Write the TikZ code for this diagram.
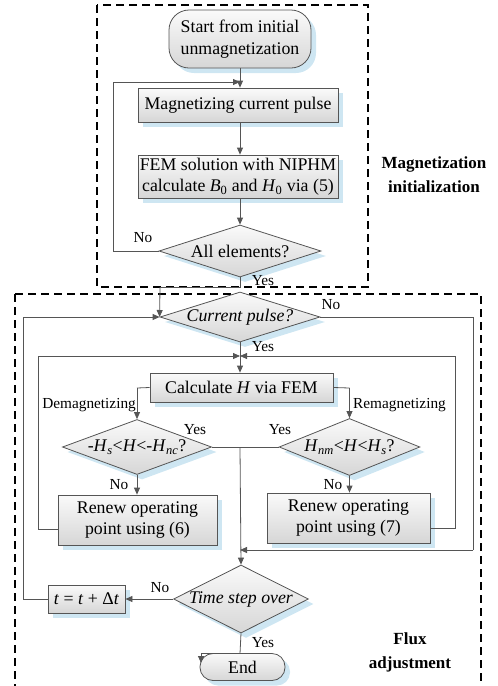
\documentclass[tikz,border=0pt]{standalone}
\usepackage{fontspec}
\setmainfont{Liberation Serif}
\usetikzlibrary{shapes.geometric,arrows.meta,shadows,calc}
\definecolor{shadowblue}{RGB}{206,230,242}
\definecolor{linegray}{RGB}{85,85,85}
\begin{document}
\begin{tikzpicture}[x=1pt,y=-1pt,
  every node/.style={font=\fontsize{17.8}{21.5}\selectfont},
  boxshade/.style={draw=linegray,line width=0.8pt,top color=gray!4,bottom color=gray!32,
     drop shadow={shadow xshift=5pt,shadow yshift=-5pt,fill=shadowblue,opacity=1}},
  proc/.style={boxshade,rectangle,inner sep=0pt,align=center},
  term/.style={boxshade,rectangle,rounded corners=14pt,inner sep=0pt,align=center},
  dec/.style={boxshade,diamond,inner sep=0pt,align=center},
  lbl/.style={font=\fontsize{15.3}{17}\selectfont,inner sep=0pt},
  side/.style={font=\fontsize{17}{24}\bfseries\selectfont,align=center,inner sep=0pt},
  conn/.style={draw=linegray,line width=0.8pt},
  arr/.style={conn,-{Triangle[length=7pt,width=6pt]}},
  region/.style={draw=black,line width=1.2pt,dash pattern=on 8pt off 5pt}
]
\useasboundingbox (0,0) rectangle (498,686);

% regions
\draw[region] (97,5) rectangle (368,287);
\draw[region] (15,294) -- (15,692);
\draw[region] (15,294) -- (481,294) -- (481,692);

\node[side] (lab1) at (434,175) {Magnetization\\initialization};
\node[side] (lab2) at (410,652) {Flux\\adjustment};

% top part
\node[term,minimum width=142pt,minimum height=58pt,rounded corners=20pt] (start) at (240,39) {Start from initial\\unmagnetization};
\node[proc,minimum width=200pt,minimum height=34pt] (mag) at (238,105) {Magnetizing current pulse};
\node[proc,minimum width=200pt,minimum height=43pt] (fem) at (238,176.5) {FEM solution with NIPHM\\calculate \textit{B}\textsubscript{0} and \textit{H}\textsubscript{0} via (5)};
\node[dec,minimum width=162pt,minimum height=52pt,aspect=3.2] (alld) at (240,251) {All elements?};

\coordinate (loopA) at (113,251);
\coordinate (loopB) at (113,82);
\coordinate (loopC) at (240,82);
\draw[arr] (start.south) -- (mag.north -| start.south);
\draw[arr] (loopA) -- (loopB) -- (loopC);
\draw[conn] (alld.west) -- (loopA);
\draw[arr] (mag.south -| alld.north) -- (fem.north -| alld.north);
\draw[arr] (fem.south -| alld.north) -- (alld.north);
\node[lbl] (noA) at (143,238) {No};
\node[lbl] (yesA) at (263,281) {Yes};

% lower part
\node[dec,minimum width=160pt,minimum height=50pt,aspect=3.2,font=\fontsize{17.8}{21.5}\itshape\selectfont] (cp) at (240,317) {Current pulse?};
\node[proc,minimum width=183pt,minimum height=29pt] (calc) at (241.5,387.5) {Calculate \textit{H} via FEM};
\node[dec,minimum width=147pt,minimum height=55pt,aspect=3.5] (dl) at (137,447) {-\textit{H}\textsubscript{\textit{s}}<\textit{H}<-\textit{H}\textsubscript{\textit{nc}}?};
\node[dec,minimum width=135pt,minimum height=57pt,aspect=3.5] (dr) at (349.5,447) {\textit{H}\textsubscript{\textit{nm}}<\textit{H}<\textit{H}\textsubscript{\textit{s}}?};
\node[proc,minimum width=159pt,minimum height=50pt] (r6) at (137.5,520) {Renew operating\\point using (6)};
\node[proc,minimum width=163pt,minimum height=50pt] (r7) at (348.5,518) {Renew operating\\point using (7)};
\node[dec,minimum width=133pt,minimum height=68pt,aspect=2,font=\fontsize{17.8}{21.5}\itshape\selectfont] (ts) at (241,599) {Time step over};
\node[proc,minimum width=77pt,minimum height=28pt] (tb) at (86.5,599) {\textit{t} = \textit{t} + Δ\textit{t}};
\node[term,minimum width=85pt,minimum height=27pt,rounded corners=13pt] (end) at (242.5,667) {End};

% connectors
\coordinate (m1) at (240,287);
\coordinate (m2) at (160,287);
\draw[conn] (alld.south) -- (m1) -- (m2);
\draw[arr] (m2) -- (cp.west);
\coordinate (lt1) at (23,599);
\coordinate (lt2) at (23,317);
\draw[conn] (tb.west) -- (lt1) -- (lt2);
\draw[arr] (lt2) -- (cp.west);
\coordinate (cpN) at (240,356);
\draw[arr] (cp.south) -- (calc.north -| cp.south);
\node[lbl] (yesB) at (263,347) {Yes};
\coordinate (nr1) at (473,317);
\coordinate (nr2) at (473,550);
\coordinate (nr3) at (240,550);
\draw[conn] (cp.east) -- (nr1) -- (nr2);
\draw[arr] (nr2) -- (nr3);
\node[lbl] (noB) at (331,305) {No};

\coordinate (c1) at (137,388);
\coordinate (c2) at (349.5,388);
\draw[conn] (calc.west) -- (c1);
\draw[arr] (c1) -- (dl.north);
\draw[conn] (calc.east) -- (c2);
\draw[arr] (c2) -- (dr.north);
\node[lbl,anchor=east] (dem) at (136,405) {Demagnetizing};
\node[lbl,anchor=west] (rem) at (353,405) {Remagnetizing};

\draw[conn] (dl.east) -- (dr.west);
\coordinate (y0) at (240,447);
\draw[arr] (y0) -- (ts.north);
\node[lbl] (yesC) at (195,430) {Yes};
\node[lbl] (yesD) at (280,430) {Yes};

\draw[arr] (dl.south) -- (r6.north -| dl.south);
\draw[arr] (dr.south) -- (r7.north -| dr.south);
\node[lbl] (noC) at (119,485) {No};
\node[lbl] (noD) at (333,485) {No};

\coordinate (l6a) at (38,529);
\coordinate (l6b) at (38,356);
\draw[conn] ([yshift=-9pt]r6.west) -- (l6a) -- (l6b);
\draw[arr] (l6b) -- (cpN);
\coordinate (l7a) at (455,528);
\coordinate (l7b) at (455,356);
\draw[conn] ([yshift=-10pt]r7.east) -- (l7a) -- (l7b);
\draw[arr] (l7b) -- (cpN);

\draw[arr] (ts.west) -- (tb.east);
\node[lbl] (noE) at (160,588) {No};
\coordinate (e1) at (240,653.5);
\coordinate (e2) at (201,653.5);
\coordinate (e3) at (201,663);
\draw[conn] (ts.south) -- (e1) -- (e2);
\draw[arr] (e2) -- (e3);
\node[lbl] (yesE) at (263,643) {Yes};
\end{tikzpicture}
\end{document}
